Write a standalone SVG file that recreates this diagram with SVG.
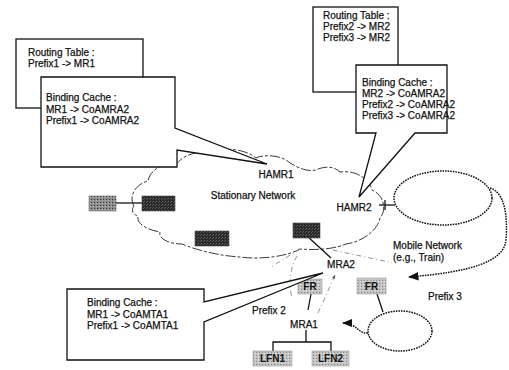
<svg xmlns="http://www.w3.org/2000/svg" width="509" height="370" viewBox="0 0 509 370">
  <defs>
    <style>
      .txt { font-family: "Liberation Sans", Arial, sans-serif; font-size: 10px; fill: #111; stroke: #111; stroke-width: 0.25; }
      .mid { text-anchor: middle; }
      .lbl { font-weight: bold; stroke: none; }
      .box { fill: #fff; stroke: #111; stroke-width: 1.3; }
      .call { fill: #fff; stroke: #111; stroke-width: 1.3; stroke-linejoin: miter; }
      .cloud { fill: none; stroke: #222; stroke-width: 0.9; stroke-dasharray: 10 2 3 2; }
      .dark { fill: url(#darkStipple); stroke: #444; stroke-width: 0.6; }
      .mediumbox { fill: url(#mediumStipple); stroke: #777; stroke-width: 0.6; }
      .light { fill: url(#lightStipple); stroke: #999; stroke-width: 0.6; }
      .line { fill: none; stroke: #111; stroke-width: 1.3; }
      .dots { fill: none; stroke: #111; stroke-width: 1.5; stroke-dasharray: 1.6 1; }
      .faint { fill: none; stroke: #777; stroke-width: 0.8; stroke-dasharray: 5 3 1 3; }
    </style>
    <!-- halftone fills for the router boxes -->
    <pattern id="darkStipple" width="3" height="3" patternUnits="userSpaceOnUse">
      <rect width="3" height="3" fill="#2a2a2a"/>
      <rect x="0" y="0" width="1" height="1" fill="#6a6a6a"/>
      <rect x="2" y="1" width="1" height="1" fill="#555"/>
    </pattern>
    <pattern id="mediumStipple" width="3" height="3" patternUnits="userSpaceOnUse">
      <rect width="3" height="3" fill="#8c8c8c"/>
      <rect x="1" y="1" width="1" height="1" fill="#333"/>
      <rect x="0" y="2" width="1" height="1" fill="#bbb"/>
    </pattern>
    <pattern id="lightStipple" width="3" height="3" patternUnits="userSpaceOnUse">
      <rect width="3" height="3" fill="#c4c4c4"/>
      <rect x="1" y="1" width="1" height="1" fill="#888"/>
      <rect x="0" y="2" width="1" height="1" fill="#e0e0e0"/>
    </pattern>
    <marker id="arrow" viewBox="0 0 10 10" refX="9" refY="5" markerWidth="7" markerHeight="7" orient="auto-start-reverse">
      <path d="M0,1 L10,5 L0,9 Z" fill="#111"/>
    </marker>
    <marker id="small" viewBox="0 0 10 10" refX="9" refY="5" markerWidth="5" markerHeight="5" orient="auto">
      <path d="M0,1 L10,5 L0,9 Z" fill="#555"/>
    </marker>
  </defs>

  <!-- stationary network cloud -->
  <g id="stationary-network">
    <path class="cloud" d="M134,206 C128,196 136,184 148,181 C150,170 163,162 176,165 C182,155 198,150 210,154 C222,146 246,149 256,158 C264,154 282,155 290,163 C298,168 308,172 316,170 C324,166 334,166 340,172 C352,170 368,176 372,190 C384,195 387,210 380,218 C378,230 362,242 346,244 C332,250 312,250 300,249 C288,256 262,260 240,257 C220,256 196,250 182,244 C168,244 158,238 160,232 C148,230 136,224 138,216 C132,214 131,210 134,206 Z"/>
    <text class="txt mid" x="253" y="198.5">Stationary Network</text>
  </g>

  <!-- wireless coverage hints around the mobile routers -->
  <g id="coverage">
    <path class="faint" d="M300,249 C292,254 282,260 270,268"/>
    <path class="faint" d="M333,250 C350,254 372,258 392,263"/>
    <path class="faint" d="M297,256 C290,268 288,284 292,298"/>
    <path class="faint" d="M318,313 L335,275" marker-end="url(#small)"/>
  </g>

  <!-- connectors -->
  <g id="connectors">
    <line class="line" x1="116" y1="203" x2="142" y2="203"/>
    <line class="line" x1="307" y1="236" x2="331" y2="258"/>
    <line class="line" x1="311" y1="294" x2="308" y2="310"/>
    <line class="line" x1="379" y1="205" x2="395" y2="205"/>
    <line class="line" x1="385" y1="200" x2="385" y2="210" stroke-width="0.8"/>
    <line class="line" x1="377" y1="294" x2="383" y2="312"/>
    <path class="line" d="M306,330 V342 M273,351 V342 H331 V351"/>
    <path class="dots" d="M490,188 C504,192 508,214 506,240 C504,262 470,272 409,277" marker-end="url(#arrow)"/>
    <path class="dots" d="M368,333 C360,334 358,327 351,325 C348,324 346,323 343,323" marker-end="url(#arrow)"/>
  </g>

  <!-- nodes -->
  <g id="cn"><rect class="mediumbox" x="89" y="196" width="27" height="15"/></g>
  <g id="router-a"><rect class="dark" x="142" y="196" width="33" height="15"/></g>
  <g id="router-b"><rect class="dark" x="195" y="231" width="34" height="15"/></g>
  <g id="router-c"><rect class="dark" x="293" y="223" width="27" height="15"/></g>

  <g id="hamr1"><text class="txt mid" x="276" y="177.5">HAMR1</text></g>
  <g id="hamr2"><text class="txt mid" x="354" y="211">HAMR2</text></g>
  <g id="mra2"><text class="txt mid" x="341" y="268">MRA2</text></g>
  <g id="mra1"><text class="txt mid" x="304" y="328">MRA1</text></g>

  <g id="fr1">
    <rect class="light" x="298" y="279" width="24" height="15"/>
    <text class="txt mid lbl" x="310" y="290">FR</text>
  </g>
  <g id="fr2">
    <rect class="light" x="357" y="278" width="29" height="16"/>
    <text class="txt mid lbl" x="371.5" y="290">FR</text>
  </g>
  <g id="lfn1">
    <rect class="light" x="253" y="351" width="39" height="15"/>
    <text class="txt mid lbl" x="272.5" y="362">LFN1</text>
  </g>
  <g id="lfn2">
    <rect class="light" x="312" y="351" width="37" height="15"/>
    <text class="txt mid lbl" x="330.5" y="362">LFN2</text>
  </g>

  <g id="mobile-network">
    <ellipse class="dots" cx="443" cy="198" rx="49" ry="27" stroke-width="1.3"/>
    <text class="txt" x="393" y="249">Mobile Network</text>
    <text class="txt" x="393" y="261">(e.g., Train)</text>
  </g>
  <g id="prefix3-network">
    <ellipse class="dots" cx="400" cy="331" rx="32" ry="20" stroke-width="1.3"/>
  </g>
  <g id="prefix-labels">
    <text class="txt" x="252" y="314">Prefix 2</text>
    <text class="txt" x="428" y="300">Prefix 3</text>
  </g>

  <!-- HAMR1 tables -->
  <g id="hamr1-routing">
    <rect class="box" x="16" y="39" width="127" height="69"/>
    <text class="txt" x="28" y="56">Routing Table :</text>
    <text class="txt" x="28" y="67">Prefix1 -&gt; MR1</text>
  </g>
  <g id="hamr1-binding">
    <path class="call" d="M41,77 H175 V128 L267,164 L177,150 V167 H41 Z"/>
    <text class="txt" x="46" y="101">Binding Cache :</text>
    <text class="txt" x="46" y="113">MR1 -&gt; CoAMRA2</text>
    <text class="txt" x="46" y="124">Prefix1 -&gt; CoAMRA2</text>
  </g>

  <!-- HAMR2 tables -->
  <g id="hamr2-routing">
    <rect class="box" x="313" y="7" width="85" height="85"/>
    <text class="txt" x="323" y="19">Routing Table :</text>
    <text class="txt" x="323" y="30">Prefix2 -&gt; MR2</text>
    <text class="txt" x="323" y="41">Prefix3 -&gt; MR2</text>
  </g>
  <g id="hamr2-binding">
    <path class="call" d="M356,65 H447 V133 H415 L359,197 L376,133 H356 Z"/>
    <text class="txt" x="362" y="86">Binding Cache :</text>
    <text class="txt" x="362" y="97">MR2 -&gt; CoAMRA2</text>
    <text class="txt" x="362" y="108">Prefix2 -&gt; CoAMRA2</text>
    <text class="txt" x="362" y="119">Prefix3 -&gt; CoAMRA2</text>
  </g>

  <!-- MRA2 binding cache -->
  <g id="mra2-binding">
    <path class="call" d="M67,289 H204 V302 L323,273 L204,322 V360 H67 Z"/>
    <text class="txt" x="87" y="306">Binding Cache :</text>
    <text class="txt" x="87" y="318">MR1 -&gt; CoAMTA1</text>
    <text class="txt" x="87" y="329">Prefix1 -&gt; CoAMTA1</text>
  </g>
</svg>
